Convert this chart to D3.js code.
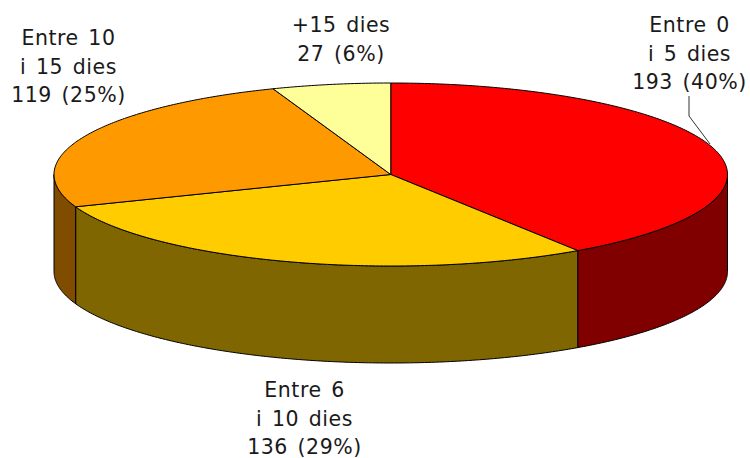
<!DOCTYPE html>
<html><head><meta charset="utf-8">
<script src="https://cdn.jsdelivr.net/npm/d3@7"></script>
<style>html,body{margin:0;padding:0;background:#fff}svg{display:block}text{font-family:"DejaVu Sans",sans-serif;font-size:20.5px;fill:#1a1a1a;text-anchor:middle;letter-spacing:.55px;word-spacing:2.5px}</style>
</head><body><svg id="c" width="750" height="458"></svg>
<script>
const categories = ["Entre 0|i 5 dies","Entre 6|i 10 dies","Entre 10|i 15 dies","+15 dies"];
const values = [193,136,119,27];
const percents = [40,29,25,6];
const topColors = ["#ff0000","#ffcc00","#ff9900","#ffff99"];
const sideColors = ["#800000","#806600","#804c00","#808050"];
const labelAnchors = [689.5,304.5,68.5,341];
const labelTops = [32,397,45,32];

const svg = d3.select("#c");
const x = d3.scaleLinear().domain([-1,1]).range([54,727.5]);
const y = d3.scaleLinear().domain([-1,1]).range([83,266]);
const depth = 97;
const pie = d3.pie().sort(null).value(d=>d);
const arcs = pie(values);
const line = d3.line().x(d=>d[0]).y(d=>d[1]);
const pt = (a,dy=0)=>[x(Math.sin(a)),y(-Math.cos(a))+dy];
const sample = (a0,a1)=>{const n=Math.max(2,Math.ceil(Math.abs(a1-a0)*90));return d3.range(n+1).map(i=>a0+(a1-a0)*i/n);};

// side walls: visible between 90 and 270 degrees clockwise from top
const lo = Math.PI/2, hi = 3*Math.PI/2;
arcs.forEach((d,i)=>{
  const a0=Math.max(d.startAngle,lo), a1=Math.min(d.endAngle,hi);
  if(a1<=a0) return;
  const s=sample(a0,a1);
  const pts=s.map(a=>pt(a)).concat(s.slice().reverse().map(a=>pt(a,depth)));
  svg.append("path").attr("d",line(pts)+"Z").attr("fill",sideColors[i]).attr("stroke","#000").attr("stroke-width",1).attr("stroke-linejoin","round");
});
// top slices
arcs.forEach((d,i)=>{
  const pts=[[x(0),y(0)]].concat(sample(d.startAngle,d.endAngle).map(a=>pt(a)));
  svg.append("path").attr("d",line(pts)+"Z").attr("fill",topColors[i]).attr("stroke","#000").attr("stroke-width",1).attr("stroke-linejoin","round");
});
// leader line
const leader = [[689,96],[689,116],[710,144]];
svg.append("path").attr("d",line(leader)).attr("fill","none").attr("stroke","#333").attr("stroke-width",1);
// labels
categories.forEach((c,i)=>{
  const rows=c.split("|").concat(`${values[i]} (${percents[i]}%)`);
  const t=svg.append("text");
  rows.forEach((r,j)=>t.append("tspan").attr("x",labelAnchors[i]).attr("y",labelTops[i]+j*28.6).text(r));
});
</script></body></html>
